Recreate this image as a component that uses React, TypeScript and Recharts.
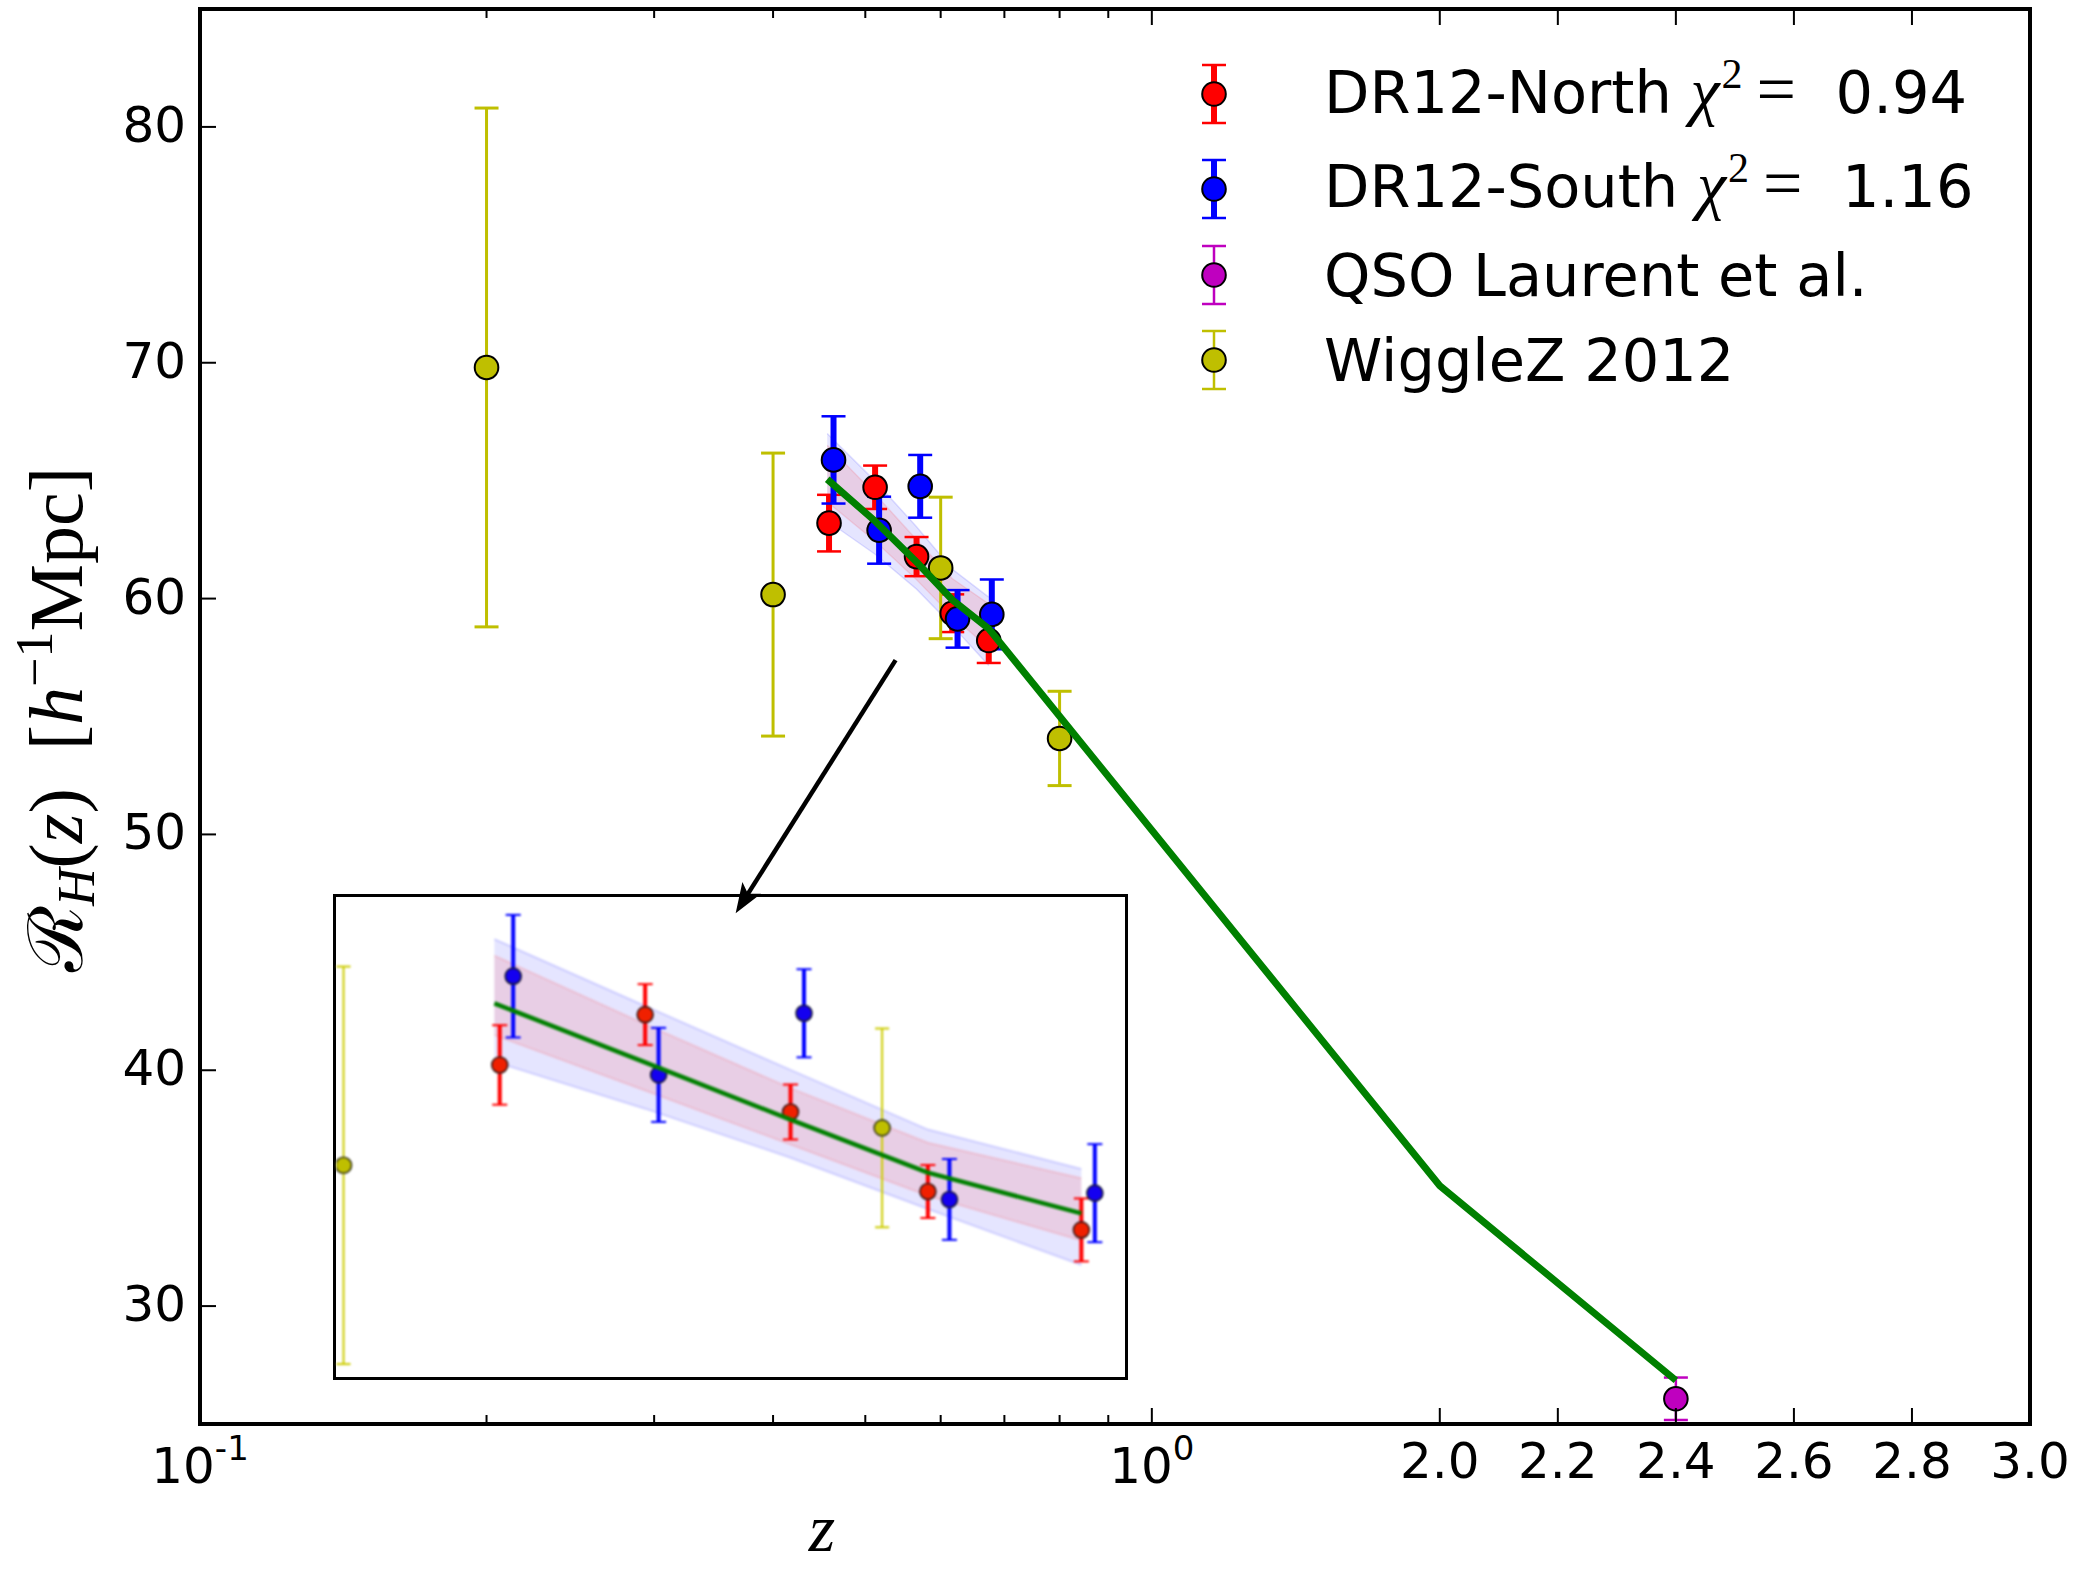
import React from 'react';
import { ComposedChart, Scatter, Area, XAxis, YAxis, ErrorBar, ReferenceLine, Legend } from 'recharts';

// ---------------- data ----------------
const northZ = [0.458, 0.512, 0.566, 0.617, 0.674];
const northR = [63.2, 64.72, 61.78, 59.38, 58.22];
const northErr = [1.2, 0.92, 0.83, 0.8, 0.95];

const southZ = [0.463, 0.517, 0.571, 0.625, 0.679];
const southR = [65.88, 62.9, 64.76, 59.14, 59.33];
const southErr = [1.85, 1.42, 1.33, 1.22, 1.48];

const qsoZ = [2.4];
const qsoR = [26.07];
const qsoErr = [0.9];

const wiggleZ = [0.2, 0.4, 0.6, 0.8];
const wiggleR = [69.8, 60.17, 61.3, 54.07];
const wiggleErr = [11.0, 6.0, 3.0, 2.0];

const modelZ = [0.456, 0.512, 0.566, 0.617, 0.674, 2.0, 2.4];
const modelR = [65.06, 63.28, 61.55, 59.95, 58.72, 35.1, 26.85];

const bandZ = [0.456, 0.512, 0.566, 0.617, 0.674];
const outerLo = [63.3, 61.88, 60.4, 58.85, 57.16];
const outerHi = [67.0, 64.98, 63.05, 61.25, 60.06];
const innerLo = [64.1, 62.43, 60.8, 59.25, 57.9];
const innerHi = [66.5, 64.43, 62.5, 60.85, 59.78];

const majorTickZ = [0.1, 1, 2.0, 2.2, 2.4, 2.6, 2.8, 3.0];
const majorTickLabels = ['10^-1', '10^0', '2.0', '2.2', '2.4', '2.6', '2.8', '3.0'];
const minorTickZ = [0.2, 0.3, 0.4, 0.5, 0.6, 0.7, 0.8, 0.9];
const yTicks = [30, 40, 50, 60, 70, 80];

const legendNames = ['DR12-North', 'DR12-South', 'QSO Laurent et al.', 'WiggleZ 2012'];
const legendChi2 = ['0.94', '1.16', '', ''];

// annotation arrow (data coordinates: z, R_H)
const arrowFrom = { z: 0.538, r: 57.39 };
const arrowTo = { z: 0.3654, r: 46.66 };

// ---------------- styling / scales ----------------
const W = 2083;
const H = 1569;
const SANS = 'DejaVu Sans';
const SERIF = 'Liberation Serif';
const RED = '#ff0000';
const BLUE = '#0000ff';
const MAGENTA = '#bf00bf';
const YELLOW = '#bfbf00';
const GREEN = '#008000';
const legendColors = [RED, BLUE, MAGENTA, YELLOW];

// composite x scale: log decade for z<=1, then two linear segments
const DECADE_PX = 952.3;
const SEG1_PX = 288.1;
const SEG2_PX = 590.5;
const toU = (z: number) =>
  z <= 1 ? DECADE_PX * Math.log10(z) : z <= 2 ? SEG1_PX * (z - 1) : SEG1_PX + SEG2_PX * (z - 2);

const U_DOMAIN = [toU(0.1), toU(3.0)];
const Y_DOMAIN = [25, 85];
const INSET_Z_DOMAIN = [0.3972, 0.6902];
const INSET_R_DOMAIN = [53.78, 68.27];

const mk = (zs: number[], rs: number[], es: number[]) =>
  zs.map((z, i) => ({ z, u: toU(z), r: rs[i], err: es[i] }));

const northData = mk(northZ, northR, northErr);
const southData = mk(southZ, southR, southErr);
const qsoData = mk(qsoZ, qsoR, qsoErr);
const wiggleData = mk(wiggleZ, wiggleR, wiggleErr);
const modelData = modelZ.map((z, i) => ({ z, u: toU(z), r: modelR[i] }));
const bandData = bandZ.map((z, i) => ({
  z,
  u: toU(z),
  outer: [outerLo[i], outerHi[i]],
  inner: [innerLo[i], innerHi[i]],
}));

const inInset = (d: any) => d.z >= INSET_Z_DOMAIN[0] && d.z <= INSET_Z_DOMAIN[1];

const xMajorU = majorTickZ.map(toU);
const xMinorU = minorTickZ.map(toU);
const xTicksU = [...xMajorU, ...xMinorU];

// ---------------- pieces ----------------
const dot = (fill: string, r: number, sw: number, edge: string) => (p: any) =>
  p.cx == null ? <g /> : <circle cx={p.cx} cy={p.cy} r={r} fill={fill} stroke={edge} strokeWidth={sw} />;

function BottomTick(p: any) {
  const { x, y, payload } = p;
  const i = xMajorU.findIndex((u) => Math.abs(u - payload.value) < 1e-6);
  const len = i >= 0 ? 15 : 8;
  let label: any = null;
  if (i >= 0) {
    const parts = majorTickLabels[i].split('^');
    label =
      parts.length > 1 ? (
        <text x={x} y={y + 59} textAnchor="middle" fontFamily={SANS} fontSize={50} fill="#000">
          <tspan>{parts[0]}</tspan>
          <tspan dy={-23} fontSize={34}>{parts[1]}</tspan>
        </text>
      ) : (
        <text x={x} y={y + 54} textAnchor="middle" fontFamily={SANS} fontSize={50} fill="#000">
          {parts[0]}
        </text>
      );
  }
  return (
    <g>
      <line x1={x} x2={x} y1={y - 1} y2={y - 1 - len} stroke="#000" strokeWidth={2} />
      {label}
    </g>
  );
}

function TopTick(p: any) {
  const { x, y, payload } = p;
  const i = xMajorU.findIndex((u) => Math.abs(u - payload.value) < 1e-6);
  const len = i >= 0 ? 15 : 8;
  return <line x1={x} x2={x} y1={y + 1} y2={y + 1 + len} stroke="#000" strokeWidth={2} />;
}

function LeftTick(p: any) {
  const { x, y, payload } = p;
  return (
    <g>
      <line x1={x + 1} x2={x + 16} y1={y} y2={y} stroke="#000" strokeWidth={2} />
      <text x={x - 14} y={y + 15} textAnchor="end" fontFamily={SANS} fontSize={50} fill="#000">
        {payload.value}
      </text>
    </g>
  );
}

function XLabel(p: any) {
  const vb = p.viewBox || { x: 200, y: 1424, width: 1830, height: 145 };
  return (
    <text x={vb.x + 622} y={vb.y + 127} textAnchor="middle" fontFamily={SERIF} fontStyle="italic" fontSize={68} fill="#000">
      z
    </text>
  );
}

function YLabel(p: any) {
  const vb = p.viewBox || { x: 0, y: 9, width: 200, height: 1415 };
  const cx = 82;
  const cy = vb.y + vb.height / 2 + 3;
  return (
    <text
      transform={`translate(${cx},${cy}) rotate(-90)`}
      textAnchor="middle"
      fontFamily={SERIF}
      fontSize={76}
      fill="#000"
      style={{ whiteSpace: 'pre' }}
    >
      <tspan>ℛ</tspan>
      <tspan fontStyle="italic" fontSize={52} dy={12}>H</tspan>
      <tspan dy={-12}>(</tspan>
      <tspan fontStyle="italic">z</tspan>
      <tspan>{')  ['}</tspan>
      <tspan fontStyle="italic">h</tspan>
      <tspan fontSize={52} dy={-30}>{'−1'}</tspan>
      <tspan dy={30}>Mpc]</tspan>
    </text>
  );
}

function ArrowShape(p: any) {
  const { x1, y1, x2, y2 } = p;
  if (x1 == null) return <g />;
  const dx = x2 - x1;
  const dy = y2 - y1;
  const L = Math.hypot(dx, dy);
  const ux = dx / L;
  const uy = dy / L;
  const headLen = 30;
  const headHalf = 11;
  const bx = x2 - ux * headLen;
  const by = y2 - uy * headLen;
  const px = -uy;
  const py = ux;
  const pts = [
    [x2, y2],
    [bx + px * headHalf, by + py * headHalf],
    [bx + ux * 7, by + uy * 7],
    [bx - px * headHalf, by - py * headHalf],
  ]
    .map((q) => q.join(','))
    .join(' ');
  return (
    <g>
      <line x1={x1} y1={y1} x2={bx + ux * 8} y2={by + uy * 8} stroke="#000" strokeWidth={4.5} />
      <polygon points={pts} fill="#000" />
    </g>
  );
}

// legend layout
const LEG_LEFT = 1150;
const LEG_TOP = 30;
const legRowY = [64, 159, 245, 330];
const legBase = [82.7, 177.3, 266, 351];

function LegendBox() {
  return (
    <svg width={880} height={400} style={{ display: 'block', overflow: 'visible' }}>
      {legendNames.map((name, i) => {
        const c = legendColors[i];
        const cy = legRowY[i];
        const thick = i < 2;
        return (
          <g key={name}>
            <line x1={64} x2={64} y1={cy - 29} y2={cy + 29} stroke={c} strokeWidth={thick ? 6 : 2.5} />
            <line x1={52} x2={76} y1={cy - 29} y2={cy - 29} stroke={c} strokeWidth={2.5} />
            <line x1={52} x2={76} y1={cy + 29} y2={cy + 29} stroke={c} strokeWidth={2.5} />
            <circle cx={64} cy={cy} r={11.8} fill={c} stroke="#000" strokeWidth={2} />
            <text x={174} y={legBase[i]} fontFamily={SANS} fontSize={59} fill="#000" style={{ whiteSpace: 'pre' }}>
              <tspan>{name + (legendChi2[i] ? ' ' : '')}</tspan>
              {legendChi2[i] ? (
                <>
                  <tspan fontFamily={SERIF} fontStyle="italic" fontSize={66}>χ</tspan>
                  <tspan fontFamily={SERIF} fontSize={42} dy={-25} dx={2}>2</tspan>
                  <tspan fontFamily={SERIF} dy={25} dx={14} fontSize={70}>=</tspan>
                  <tspan dx={2}>{'  ' + legendChi2[i]}</tspan>
                </>
              ) : null}
            </text>
          </g>
        );
      })}
    </svg>
  );
}

function MainChart() {
  return (
    <ComposedChart width={W} height={H} data={bandData} margin={{ top: 8, right: 52, bottom: 0, left: 0 }}>
      <XAxis
        xAxisId="b"
        type="number"
        dataKey="u"
        domain={U_DOMAIN}
        allowDataOverflow
        ticks={xTicksU}
        interval={0}
        tickSize={0}
        tickMargin={0}
        tickLine={false}
        tick={(p: any) => <BottomTick {...p} />}
        axisLine={{ stroke: '#000', strokeWidth: 4, strokeLinecap: 'square' }}
        height={145}
        label={<XLabel />}
      />
      <XAxis
        xAxisId="t"
        orientation="top"
        type="number"
        dataKey="u"
        domain={U_DOMAIN}
        allowDataOverflow
        ticks={xTicksU}
        interval={0}
        tickSize={0}
        tickMargin={0}
        tickLine={false}
        tick={(p: any) => <TopTick {...p} />}
        axisLine={{ stroke: '#000', strokeWidth: 4, strokeLinecap: 'square' }}
        height={1}
      />
      <YAxis
        yAxisId="l"
        type="number"
        dataKey="r"
        domain={Y_DOMAIN}
        allowDataOverflow
        ticks={yTicks}
        interval={0}
        tickSize={0}
        tickMargin={0}
        tickLine={false}
        tick={(p: any) => <LeftTick {...p} />}
        axisLine={{ stroke: '#000', strokeWidth: 4, strokeLinecap: 'square' }}
        width={200}
        label={<YLabel />}
      />
      <YAxis
        yAxisId="rr"
        orientation="right"
        type="number"
        domain={Y_DOMAIN}
        allowDataOverflow
        ticks={yTicks}
        tick={false}
        tickLine={false}
        axisLine={{ stroke: '#000', strokeWidth: 4, strokeLinecap: 'square' }}
        width={1}
      />

      <Area
        xAxisId="b"
        yAxisId="l"
        type="linear"
        dataKey="outer"
        fill="#0000ff"
        fillOpacity={0.1}
        stroke="#0000ff"
        strokeOpacity={0.12}
        strokeWidth={1.5}
        dot={false}
        activeDot={false}
        isAnimationActive={false}
      />
      <Area
        xAxisId="b"
        yAxisId="l"
        type="linear"
        dataKey="inner"
        fill="#ff0000"
        fillOpacity={0.1}
        stroke="#ff0000"
        strokeOpacity={0.1}
        strokeWidth={1.5}
        dot={false}
        activeDot={false}
        isAnimationActive={false}
      />

      <Scatter xAxisId="b" yAxisId="l" data={northData} dataKey="r" fill={RED} shape={dot(RED, 11.8, 2, '#000')} isAnimationActive={false}>
        <ErrorBar dataKey="err" direction="y" width={0} stroke={RED} strokeWidth={6} />
        <ErrorBar dataKey="err" direction="y" width={12} stroke={RED} strokeWidth={2.5} />
      </Scatter>
      <Scatter xAxisId="b" yAxisId="l" data={southData} dataKey="r" fill={BLUE} shape={dot(BLUE, 11.8, 2, '#000')} isAnimationActive={false}>
        <ErrorBar dataKey="err" direction="y" width={0} stroke={BLUE} strokeWidth={6} />
        <ErrorBar dataKey="err" direction="y" width={12} stroke={BLUE} strokeWidth={2.5} />
      </Scatter>
      <Scatter xAxisId="b" yAxisId="l" data={qsoData} dataKey="r" fill={MAGENTA} shape={dot(MAGENTA, 11.8, 2, '#000')} isAnimationActive={false}>
        <ErrorBar dataKey="err" direction="y" width={12} stroke={MAGENTA} strokeWidth={2.5} />
      </Scatter>
      <Scatter xAxisId="b" yAxisId="l" data={wiggleData} dataKey="r" fill={YELLOW} shape={dot(YELLOW, 11.8, 2, '#000')} isAnimationActive={false}>
        <ErrorBar dataKey="err" direction="y" width={12} stroke={YELLOW} strokeWidth={3} />
      </Scatter>
      <Scatter
        xAxisId="b"
        yAxisId="l"
        data={modelData}
        dataKey="r"
        fill={GREEN}
        line={{ stroke: GREEN, strokeWidth: 7, strokeLinejoin: 'round' }}
        lineType="joint"
        shape={() => <g />}
        isAnimationActive={false}
      />

      <ReferenceLine
        xAxisId="b"
        yAxisId="l"
        segment={[
          { x: toU(arrowFrom.z), y: arrowFrom.r },
          { x: toU(arrowTo.z), y: arrowTo.r },
        ]}
        ifOverflow="visible"
        shape={(p: any) => <ArrowShape {...p} />}
      />

      <Legend
        layout="vertical"
        align="center"
        verticalAlign="middle"
        content={() => <LegendBox />}
        wrapperStyle={{ position: 'absolute', left: LEG_LEFT, top: LEG_TOP, width: 880, height: 400, margin: 0 }}
      />
    </ComposedChart>
  );
}

function InsetChart() {
  return (
    <ComposedChart width={789} height={480} data={bandData} margin={{ top: 0, right: 0, bottom: 0, left: 0 }}>
      <XAxis type="number" dataKey="z" domain={INSET_Z_DOMAIN} allowDataOverflow hide />
      <YAxis type="number" dataKey="r" domain={INSET_R_DOMAIN} allowDataOverflow hide />
      <Area type="linear" dataKey="outer" fill="#0000ff" fillOpacity={0.1} stroke="#0000ff" strokeOpacity={0.15} strokeWidth={2} dot={false} activeDot={false} isAnimationActive={false} />
      <Area type="linear" dataKey="inner" fill="#ff0000" fillOpacity={0.1} stroke="#ff0000" strokeOpacity={0.12} strokeWidth={2} dot={false} activeDot={false} isAnimationActive={false} />
      <Scatter data={northData.filter(inInset)} dataKey="r" fill={RED} shape={dot('#f02000', 8, 1.6, '#3a1a1a')} isAnimationActive={false}>
        <ErrorBar dataKey="err" direction="y" width={0} stroke={RED} strokeWidth={4} />
        <ErrorBar dataKey="err" direction="y" width={7.5} stroke={RED} strokeWidth={2} />
      </Scatter>
      <Scatter data={southData.filter(inInset)} dataKey="r" fill={BLUE} shape={dot('#1400f0', 8, 1.6, '#1a1a3a')} isAnimationActive={false}>
        <ErrorBar dataKey="err" direction="y" width={0} stroke={BLUE} strokeWidth={4} />
        <ErrorBar dataKey="err" direction="y" width={7.5} stroke={BLUE} strokeWidth={2} />
      </Scatter>
      <Scatter data={wiggleData.filter(inInset)} dataKey="r" fill={YELLOW} shape={dot(YELLOW, 8, 1.6, '#3a3a1a')} isAnimationActive={false}>
        <ErrorBar dataKey="err" direction="y" width={7} stroke="#cccc00" strokeWidth={2} />
      </Scatter>
      <Scatter
        data={modelData.filter(inInset)}
        dataKey="r"
        fill={GREEN}
        line={{ stroke: GREEN, strokeWidth: 4.5, strokeLinejoin: 'round' }}
        lineType="joint"
        shape={() => <g />}
        isAnimationActive={false}
      />
    </ComposedChart>
  );
}

export default function App() {
  return (
    <div style={{ position: 'absolute', left: 0, top: 0, width: W, height: H, background: '#fff', overflow: 'hidden' }}>
      <div
        style={{
          position: 'absolute',
          left: 333,
          top: 894,
          width: 789,
          height: 480,
          border: '3px solid #000',
          background: '#fff',
        }}
      >
        <div style={{ filter: 'blur(0.8px)' }}>
          <InsetChart />
        </div>
      </div>
      <div style={{ position: 'absolute', left: 0, top: 0 }}>
        <MainChart />
      </div>
    </div>
  );
}
